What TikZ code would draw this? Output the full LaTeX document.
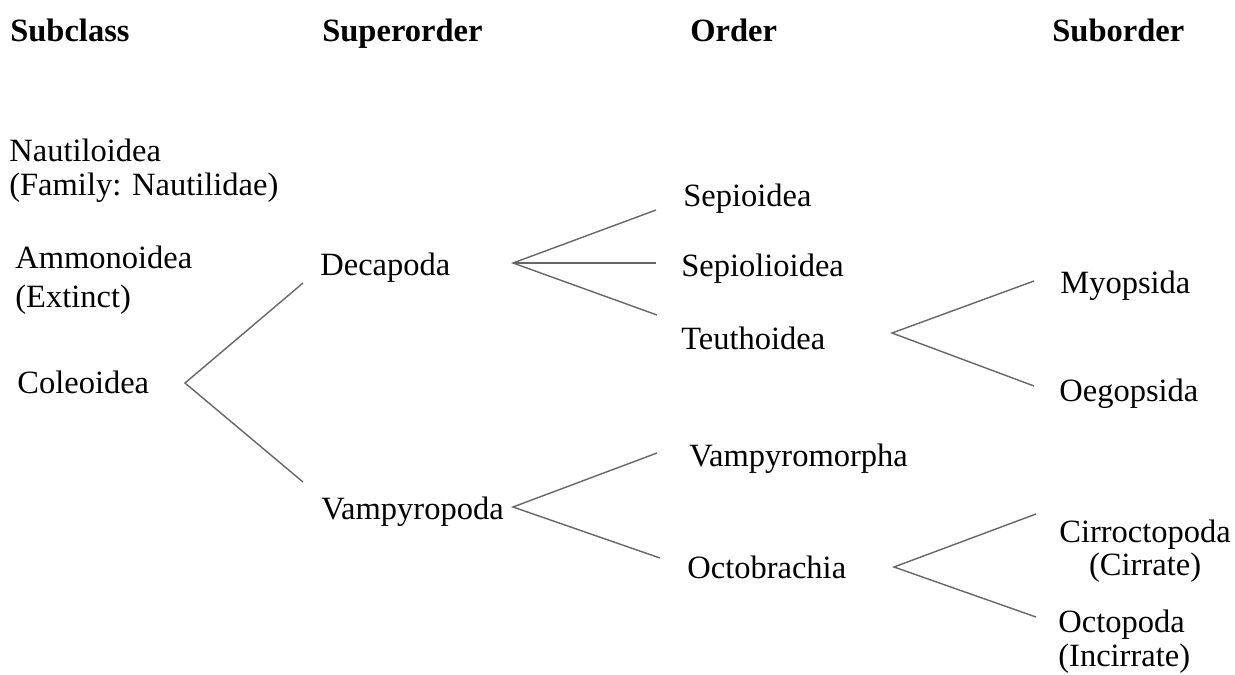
\documentclass[tikz,border=0pt]{standalone}
\usepackage{fontspec}
\setmainfont{Liberation Serif}
\begin{document}
\begin{tikzpicture}[
        x=0.02cm, y=-0.02cm,
        taxon/.style={anchor=base west, inner sep=0pt, font=\fontsize{18.5}{22}\selectfont},
        rank/.style={taxon, font=\fontsize{18.5}{22}\selectfont\bfseries},
        branch/.style={draw=black!60, line width=0.8pt}
    ]
        \useasboundingbox (0,0) rectangle (1235,674);

        % Ranks
        \node[rank] (subclass) at (10,41) {Subclass};
        \node[rank] (superorder) at (322,41) {Superorder};
        \node[rank] (order) at (690,41) {Order};
        \node[rank] (suborder) at (1052,41) {Suborder};

        % Subclasses
        \node[taxon] (nautiloidea) at (9,161) {Nautiloidea};
        \node[taxon] (nautilidae) at (9,195) {(Family: Nautilidae)};
        \node[taxon] (ammonoidea) at (15,268) {Ammonoidea};
        \node[taxon] (extinct) at (15,307) {(Extinct)};
        \node[taxon] (coleoidea) at (17,393) {Coleoidea};

        % Superorders
        \node[taxon] (decapoda) at (320,275) {Decapoda};
        \node[taxon] (vampyropoda) at (321,519) {Vampyropoda};

        % Orders
        \node[taxon] (sepioidea) at (683,206) {Sepioidea};
        \node[taxon] (sepiolioidea) at (681,276) {Sepiolioidea};
        \node[taxon] (teuthoidea) at (681,349) {Teuthoidea};
        \node[taxon] (vampyromorpha) at (689,466) {Vampyromorpha};
        \node[taxon] (octobrachia) at (687,578) {Octobrachia};

        % Suborders
        \node[taxon] (myopsida) at (1060,293) {Myopsida};
        \node[taxon] (oegopsida) at (1059,401) {Oegopsida};
        \node[taxon] (cirroctopoda) at (1059,542) {Cirroctopoda};
        \node[taxon, anchor=base] (cirrate) at ([yshift=-19pt]cirroctopoda.base) {(Cirrate)};
        \node[taxon] (octopoda) at (1058,632) {Octopoda};
        \node[taxon] (incirrate) at (1058,666) {(Incirrate)};

        % Fork points
        \coordinate (cole-fork) at (185,383);
        \coordinate (to-deca) at (303,283);
        \coordinate (to-vampy) at (303,482);
        \coordinate (deca-fork) at (513,263);
        \coordinate (to-sepio) at (656,210);
        \coordinate (to-sepiolio) at (656,263);
        \coordinate (to-teutho) at (657,315);
        \coordinate (vampy-fork) at (513,507);
        \coordinate (to-vampyro) at (657,453);
        \coordinate (to-octobr) at (660,558);
        \coordinate (teutho-fork) at (892,333);
        \coordinate (to-myop) at (1034,281);
        \coordinate (to-oegop) at (1034,386);
        \coordinate (octobr-fork) at (894,567);
        \coordinate (to-cirro) at (1036,514);
        \coordinate (to-octop) at (1036,617);

        % Branches
        \draw[branch] (to-deca) -- (cole-fork) -- (to-vampy);
        \draw[branch] (to-sepio) -- (deca-fork) -- (to-teutho);
        \draw[branch] (deca-fork) -- (to-sepiolio);
        \draw[branch] (to-vampyro) -- (vampy-fork) -- (to-octobr);
        \draw[branch] (to-myop) -- (teutho-fork) -- (to-oegop);
        \draw[branch] (to-cirro) -- (octobr-fork) -- (to-octop);
    \end{tikzpicture}
\end{document}
